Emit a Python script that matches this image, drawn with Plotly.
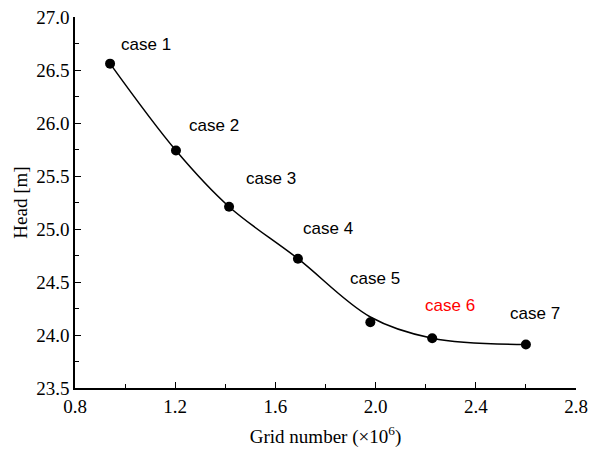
import plotly.graph_objects as go

# Data
grid_number = [0.94, 1.203, 1.415, 1.69, 1.979, 2.226, 2.60]
head = [26.56, 25.74, 25.21, 24.72, 24.12, 23.97, 23.91]
# smooth fitted curve (at the same abscissae)
fit_head = [26.56, 25.74, 25.21, 24.72, 24.17, 23.97, 23.91]
case_labels = ["case 1", "case 2", "case 3", "case 4", "case 5", "case 6", "case 7"]
label_colors = ["black", "black", "black", "black", "black", "red", "black"]
label_offsets = [(36, 19), (38, 25), (42, 28), (30, 30), (5, 44), (18, 33), (9, 31)]

SERIF = "Liberation Serif"
SANS = "Liberation Sans"

fig = go.Figure()
fig.add_trace(go.Scatter(
    x=grid_number, y=fit_head, mode="lines",
    line=dict(color="black", width=1.5, shape="spline", smoothing=1.0),
    showlegend=False, hoverinfo="skip"))
fig.add_trace(go.Scatter(
    x=grid_number, y=head, mode="markers",
    marker=dict(color="black", size=10),
    showlegend=False))

for x, y, t, c, (dx, dy) in zip(grid_number, head, case_labels, label_colors, label_offsets):
    fig.add_annotation(x=x, y=y, text=t, showarrow=False, xshift=dx, yshift=dy,
                       font=dict(family=SANS, size=17, color=c))

axis_common = dict(
    showline=True, linecolor="black", linewidth=1.5, mirror=False,
    ticks="inside", ticklen=6, tickwidth=1.2, tickcolor="black",
    showgrid=False, zeroline=False,
    tickfont=dict(family=SERIF, size=19, color="black"),
)

fig.update_xaxes(range=[0.8, 2.8], tick0=0.8, dtick=0.4, tickformat=".1f",
                 minor=dict(ticks="inside", dtick=0.2, ticklen=4, tickcolor="black", tickwidth=1.2),
                 title=dict(text="Grid number (×10<sup>6</sup>)", standoff=14,
                            font=dict(family=SERIF, size=19, color="black")),
                 **axis_common)
fig.update_yaxes(range=[23.5, 27.0], tick0=23.5, dtick=0.5, tickformat=".1f",
                 minor=dict(ticks="inside", dtick=0.25, ticklen=4, tickcolor="black", tickwidth=1.2),
                 title=dict(text="Head [m]", standoff=4,
                            font=dict(family=SERIF, size=19, color="black")),
                 **axis_common)

fig.update_layout(
    width=599, height=451,
    margin=dict(l=75, r=23, t=17, b=63, autoexpand=False),
    font=dict(family=SERIF, size=19, color="black"),
    plot_bgcolor="white", paper_bgcolor="white",
)

fig.write_html("out.html", config={"displayModeBar": False},
               post_script="document.body.style.margin='0';document.body.style.padding='0';")
